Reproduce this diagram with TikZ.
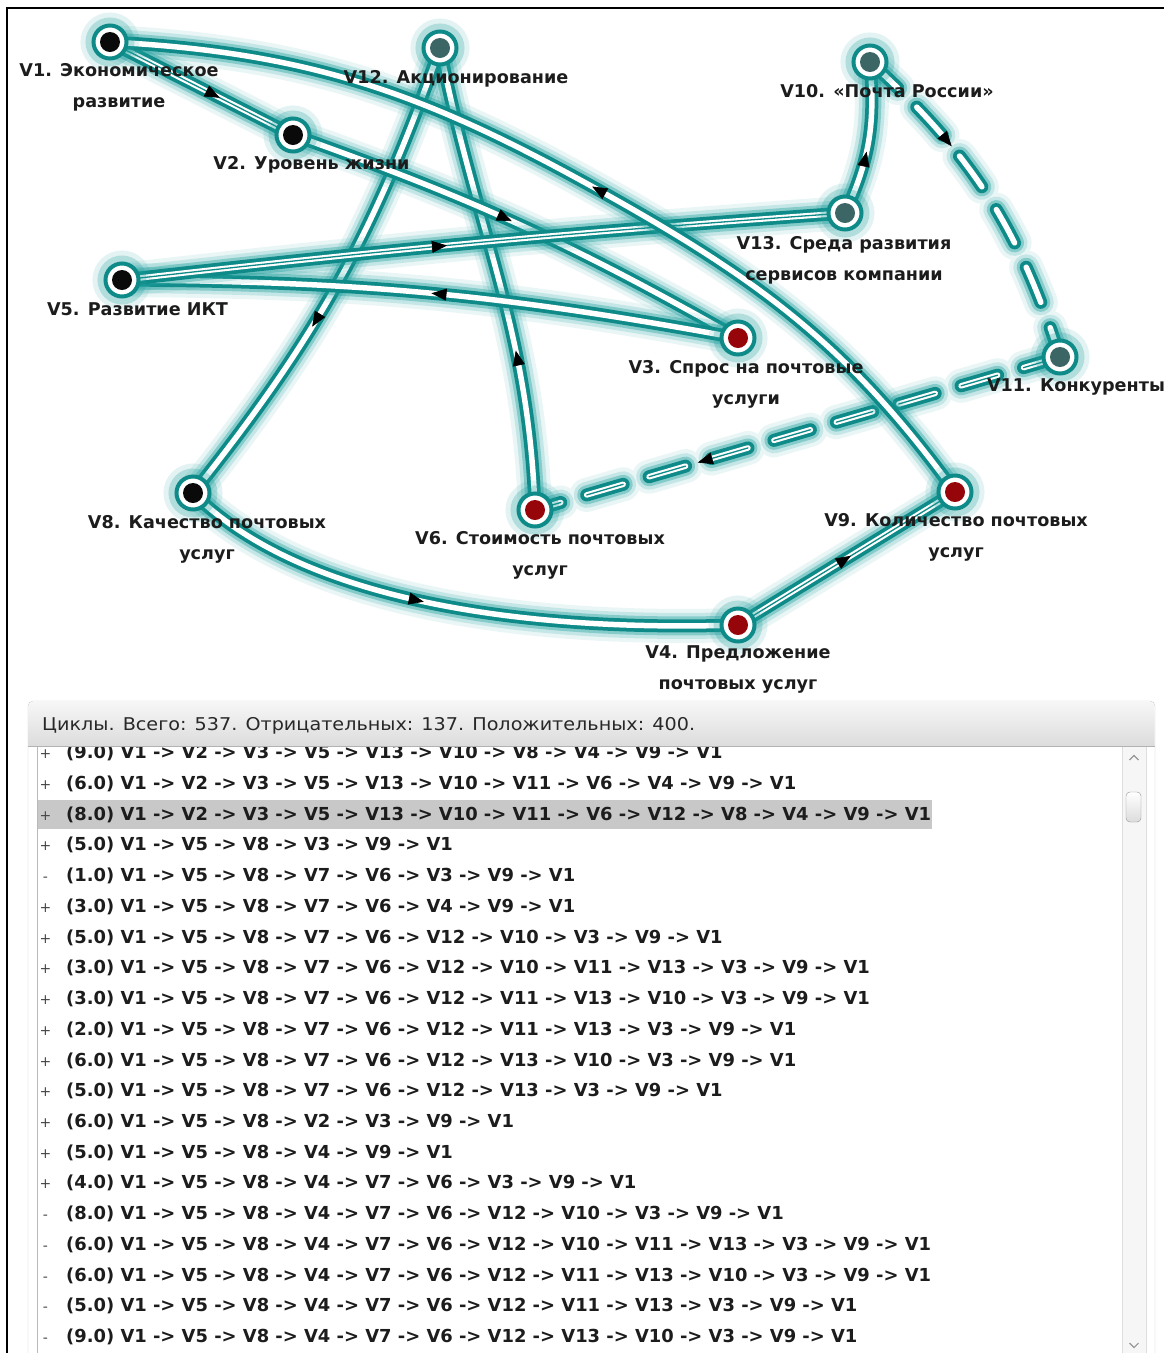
\documentclass[tikz,border=0pt]{standalone}
\usepackage{fontspec}
\setmainfont{DejaVu Sans}
\newfontfamily\hdrfont[FakeStretch=1.09]{DejaVu Sans}
\usetikzlibrary{arrows.meta,decorations.markings}
\pgfdeclarelayer{edges}
\pgfsetlayers{edges,main}

\definecolor{edgeteal}{RGB}{14,138,136}
\definecolor{glowteal}{RGB}{30,160,158}
\definecolor{dotred}{RGB}{150,5,10}
\definecolor{dotslate}{RGB}{60,102,102}
\definecolor{dotblack}{RGB}{10,10,10}
\definecolor{txt}{RGB}{28,28,28}
\definecolor{hdrtxt}{RGB}{40,40,40}
\definecolor{hdrtop}{RGB}{247,247,247}
\definecolor{hdrbot}{RGB}{220,220,220}
\definecolor{hdrline}{RGB}{178,178,178}
\definecolor{panelline}{RGB}{200,200,200}
\definecolor{listline}{RGB}{185,185,185}
\definecolor{rowsel}{RGB}{200,200,200}
\definecolor{signtxt}{RGB}{70,70,70}
\definecolor{sbtrack}{RGB}{246,246,246}
\definecolor{sbline}{RGB}{222,222,222}
\definecolor{sbthumb}{RGB}{150,150,150}

\tikzset{
  glowlayers/.style={
    preaction={draw=glowteal, draw opacity=0.09, line width=34pt, line cap=round, #1},
    preaction={draw=glowteal, draw opacity=0.18, line width=26pt, line cap=round, #1},
    preaction={draw=glowteal, draw opacity=0.38, line width=19pt, line cap=round, #1},
    preaction={draw=edgeteal, line width=13pt, line cap=round, #1}},
  link/.style={glowlayers=solid, draw=white, line width=5.5pt, line cap=round},
  dlink/.style={glowlayers={dash pattern=on 38pt off 27pt}, draw=white,
    line width=5.5pt, line cap=round, dash pattern=on 38pt off 27pt},
  dbl/.style={postaction={draw=edgeteal, line width=1.3pt, #1}},
  dbl/.default=solid,
  tip/.style={postaction={decorate, decoration={markings,
      mark=at position #1 with {\pgfsetdash{}{0pt}\pgfsetlinewidth{0.6pt}%
        \arrow{Triangle[length=15pt,width=12pt,color=black]}}}}},
  vtx/.style={circle, minimum size=33pt, inner sep=0pt, fill=white,
    draw=edgeteal, line width=4pt,
    preaction={draw=glowteal, draw opacity=0.12, line width=26pt},
    preaction={draw=glowteal, draw opacity=0.25, line width=16pt},
    path picture={\fill[#1] (path picture bounding box.center) circle (10pt);}},
  lbl/.style={font=\bfseries\fontsize{17.6}{31}\selectfont, text=txt,
    align=center, inner sep=0pt, anchor=north},
  rowtext/.style={font=\bfseries\fontsize{17.9}{20}\selectfont, text=txt,
    inner sep=0pt, anchor=base west},
  rowsign/.style={font=\fontsize{14}{16}\selectfont, text=signtxt,
    inner sep=0pt, anchor=base},
}

\begin{document}
\begin{tikzpicture}[x=1pt,y=1pt]
\useasboundingbox (0,0) rectangle (1164,-1353);

% vertices of the cognitive map
\node[vtx=dotblack] (V1)  at (110,-42)  {};
\node[vtx=dotblack] (V2)  at (293,-135) {};
\node[vtx=dotslate] (V12) at (440,-48)  {};
\node[vtx=dotslate] (V10) at (870,-62)  {};
\node[vtx=dotslate] (V13) at (845,-213) {};
\node[vtx=dotblack] (V5)  at (122,-280) {};
\node[vtx=dotred]   (V3)  at (738,-338) {};
\node[vtx=dotslate] (V11) at (1060,-357){};
\node[vtx=dotblack] (V8)  at (193,-493) {};
\node[vtx=dotred]   (V6)  at (535,-510) {};
\node[vtx=dotred]   (V9)  at (955,-492) {};
\node[vtx=dotred]   (V4)  at (738,-625) {};
\coordinate (m9) at (593,-187);

% arcs of the highlighted cycle, under the vertices
\begin{pgfonlayer}{edges}
\fill[white] (0,0) rectangle (1164,-1353);
\draw[link,tip=0.34] (V6.center) to[out=92,in=-79] (V12.center);
\draw[link,tip=0.6] (V12.center) to[bend left=9.5] (V8.center);
\draw[link,dbl,tip=0.6] (V1.center) -- (V2.center);
\draw[link,tip=0.48] (V2.center) to[bend left=5] (V3.center);
\draw[link,tip=0.5] (V3.center) to[bend right=5] (V5.center);
\draw[link,dbl,tip=0.45] (V5.center) to[bend left=1.2] (V13.center);
\draw[link,tip=0.42] (V13.center) to[out=65,in=-85] (V10.center);
\draw[dlink,tip=0.33] (V10.center) to[bend left=15] (V11.center);
\draw[dlink,dbl={dash pattern=on 38pt off 27pt},tip=0.69] (V11.center) -- (V6.center);
\draw[link,tip=0.45] (V8.center) .. controls (300,-600) and (520,-632) .. (V4.center);
\draw[link,dbl,tip=0.52] (V4.center) -- (V9.center);
\draw[link,tip=0.485] (V9.center) to[out=126,in=-29] (m9) to[out=151,in=-3] (V1.center);
\end{pgfonlayer}

% vertex captions
\node[lbl] (t1)  at (119,-63.6)  {V1. Экономическое\\развитие};
\node[lbl] (t2)  at (311.5,-156.6) {V2. Уровень жизни};
\node[lbl] (t12) at (456,-70.6)  {V12. Акционирование};
\node[lbl] (t10) at (887,-84.6)  {V10. «Почта России»};
\node[lbl] (t13) at (844,-236.6) {V13. Среда развития\\сервисов компании};
\node[lbl] (t5)  at (137.5,-302.6) {V5. Развитие ИКТ};
\node[lbl] (t3)  at (746,-360.6) {V3. Спрос на почтовые\\услуги};
\node[lbl] (t11) at (1076,-378.6) {V11. Конкуренты};
\node[lbl] (t8)  at (207,-515.6) {V8. Качество почтовых\\услуг};
\node[lbl] (t6)  at (540,-531.6) {V6. Стоимость почтовых\\услуг};
\node[lbl] (t9)  at (956,-513.6) {V9. Количество почтовых\\услуг};
\node[lbl] (t4)  at (738,-645.6) {V4. Предложение\\почтовых услуг};

% cycle list panel
\draw[panelline, fill=white, rounded corners=5pt] (28,-1380) rectangle (1155,-701);
\begin{scope}
  \clip[rounded corners=5pt] (28.5,-701.5) rectangle (1154.5,-770);
  \shade[top color=hdrtop, bottom color=hdrbot] (28,-701) rectangle (1155,-746);
\end{scope}
\draw[hdrline] (28,-746) -- (1155,-746);
\node[anchor=base west, inner sep=0pt, text=hdrtxt,
      font=\hdrfont\fontsize{17.6}{20}\selectfont] (hdr) at (42,-730.5)
  {Циклы. Всего: 537. Отрицательных: 137. Положительных: 400.};
\draw[listline] (37.5,-746.5) -- (37.5,-1353);

% scroll bar
\fill[sbtrack] (1122,-746.5) rectangle (1146,-1353);
\draw[sbline] (1122,-746.5) -- (1122,-1353);
\draw[sbline] (1146,-746.5) -- (1146,-1353);
\draw[sbthumb, rounded corners=4pt, top color=white, bottom color=hdrbot]
  (1126,-792) rectangle (1141,-822);
\draw[sbthumb, line width=1.1pt] (1129.5,-760) -- (1134,-755.5) -- (1138.5,-760);
\draw[sbthumb, line width=1.1pt] (1129.5,-1343) -- (1134,-1347.5) -- (1138.5,-1343);

% rows of the list
\begin{scope}
  \clip (38,-747) rectangle (1121,-1353);
  \fill[rowsel] (38,-800) rectangle (932,-829);
  \foreach \k/\sg/\tx in {
    1/+/(9.0) V1 -> V2 -> V3 -> V5 -> V13 -> V10 -> V8 -> V4 -> V9 -> V1,
    2/+/(6.0) V1 -> V2 -> V3 -> V5 -> V13 -> V10 -> V11 -> V6 -> V4 -> V9 -> V1,
    3/+/(8.0) V1 -> V2 -> V3 -> V5 -> V13 -> V10 -> V11 -> V6 -> V12 -> V8 -> V4 -> V9 -> V1,
    4/+/(5.0) V1 -> V5 -> V8 -> V3 -> V9 -> V1,
    5/-/(1.0) V1 -> V5 -> V8 -> V7 -> V6 -> V3 -> V9 -> V1,
    6/+/(3.0) V1 -> V5 -> V8 -> V7 -> V6 -> V4 -> V9 -> V1,
    7/+/(5.0) V1 -> V5 -> V8 -> V7 -> V6 -> V12 -> V10 -> V3 -> V9 -> V1,
    8/+/(3.0) V1 -> V5 -> V8 -> V7 -> V6 -> V12 -> V10 -> V11 -> V13 -> V3 -> V9 -> V1,
    9/+/(3.0) V1 -> V5 -> V8 -> V7 -> V6 -> V12 -> V11 -> V13 -> V10 -> V3 -> V9 -> V1,
    10/+/(2.0) V1 -> V5 -> V8 -> V7 -> V6 -> V12 -> V11 -> V13 -> V3 -> V9 -> V1,
    11/+/(6.0) V1 -> V5 -> V8 -> V7 -> V6 -> V12 -> V13 -> V10 -> V3 -> V9 -> V1,
    12/+/(5.0) V1 -> V5 -> V8 -> V7 -> V6 -> V12 -> V13 -> V3 -> V9 -> V1,
    13/+/(6.0) V1 -> V5 -> V8 -> V2 -> V3 -> V9 -> V1,
    14/+/(5.0) V1 -> V5 -> V8 -> V4 -> V9 -> V1,
    15/+/(4.0) V1 -> V5 -> V8 -> V4 -> V7 -> V6 -> V3 -> V9 -> V1,
    16/-/(8.0) V1 -> V5 -> V8 -> V4 -> V7 -> V6 -> V12 -> V10 -> V3 -> V9 -> V1,
    17/-/(6.0) V1 -> V5 -> V8 -> V4 -> V7 -> V6 -> V12 -> V10 -> V11 -> V13 -> V3 -> V9 -> V1,
    18/-/(6.0) V1 -> V5 -> V8 -> V4 -> V7 -> V6 -> V12 -> V11 -> V13 -> V10 -> V3 -> V9 -> V1,
    19/-/(5.0) V1 -> V5 -> V8 -> V4 -> V7 -> V6 -> V12 -> V11 -> V13 -> V3 -> V9 -> V1,
    20/-/(9.0) V1 -> V5 -> V8 -> V4 -> V7 -> V6 -> V12 -> V13 -> V10 -> V3 -> V9 -> V1}
  {
    \pgfmathsetmacro\yy{-(758.8+30.72*(\k-1))}
    \node[rowsign] (sign\k) at (45.5,\yy) {\sg};
    \node[rowtext] (row\k) at (66,\yy) {\tx};
  }
\end{scope}

% outer frame
\draw[black, line width=2pt] (7,-1353) -- (7,-8) -- (1164,-8);
\end{tikzpicture}
\end{document}
